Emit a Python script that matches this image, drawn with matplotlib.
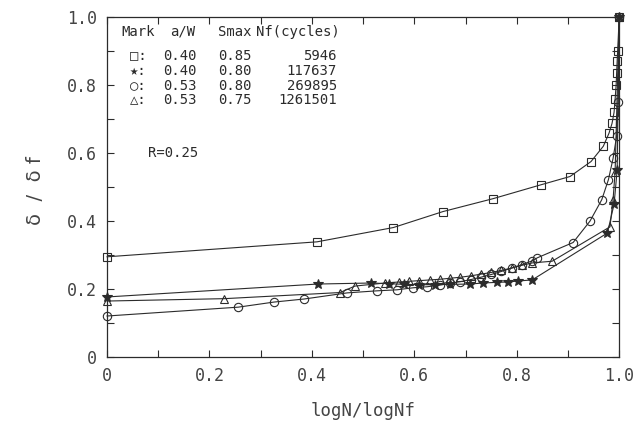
"""Normalised COD growth vs normalised log life, four test conditions."""

import matplotlib
matplotlib.use("Agg")
import matplotlib.pyplot as plt
import numpy as np

# ---- data --------------------------------------------------------------------
sq_x = [0.0, 0.41, 0.559, 0.656, 0.754, 0.848, 0.904, 0.945, 0.969, 0.98, 0.986,
        0.99, 0.992, 0.994, 0.995, 0.996, 0.997, 1.0]
sq_y = [0.295, 0.339, 0.381, 0.428, 0.466, 0.507, 0.531, 0.575, 0.62, 0.658, 0.687,
        0.72, 0.758, 0.80, 0.835, 0.87, 0.90, 1.0]

star_x = [0.0, 0.412, 0.516, 0.55, 0.58, 0.61, 0.64, 0.67, 0.709, 0.734, 0.762,
          0.783, 0.803, 0.83, 0.977, 0.99, 0.996, 1.0]
star_y = [0.177, 0.215, 0.218, 0.216, 0.214, 0.213, 0.213, 0.214, 0.215, 0.218,
          0.220, 0.221, 0.224, 0.227, 0.365, 0.45, 0.55, 1.0]

circ_x = [0.0, 0.256, 0.326, 0.385, 0.469, 0.527, 0.566, 0.598, 0.625, 0.65, 0.67,
          0.69, 0.71, 0.73, 0.75, 0.77, 0.79, 0.81, 0.83, 0.84, 0.91, 0.943, 0.966,
          0.979, 0.988, 0.995, 0.998, 1.0]
circ_y = [0.121, 0.147, 0.162, 0.171, 0.189, 0.195, 0.198, 0.204, 0.207, 0.212, 0.217,
          0.222, 0.228, 0.235, 0.243, 0.252, 0.262, 0.272, 0.283, 0.292, 0.337, 0.40, 0.463,
          0.522, 0.584, 0.65, 0.75, 1.0]

tri_x = [0.0, 0.229, 0.455, 0.484, 0.543, 0.57, 0.59, 0.61, 0.63, 0.65, 0.67, 0.69,
         0.71, 0.73, 0.75, 0.77, 0.79, 0.81, 0.83, 0.869, 0.982, 0.988, 0.992, 1.0]
tri_y = [0.165, 0.172, 0.19, 0.209, 0.218, 0.221, 0.223, 0.225, 0.227, 0.229, 0.232,
         0.235, 0.239, 0.244, 0.249, 0.255, 0.262, 0.27, 0.277, 0.282, 0.383, 0.463,
         0.545, 1.0]

legend_rows = [
    ("\u25a1", "0.40", "0.85", "5946"),
    ("\u2605", "0.40", "0.80", "117637"),
    ("\u25cb", "0.53", "0.80", "269895"),
    ("\u25b3", "0.53", "0.75", "1261501"),
]
x_ticks = [0, 0.2, 0.4, 0.6, 0.8, 1.0]
x_ticklabels = ["0", "0.2", "0.4", "0.6", "0.8", "1.0"]
y_ticks = [0, 0.2, 0.4, 0.6, 0.8, 1.0]
y_ticklabels = ["0", "0.2", "0.4", "0.6", "0.8", "1.0"]

INK = "#2b2b2b"
TXT = "#444444"
MONO = ["DejaVu Sans Mono", "DejaVu Sans"]

fig = plt.figure(figsize=(6.41, 4.34), dpi=100)
ax = fig.add_axes([0.167, 0.177, 0.799, 0.784])

common = dict(color=INK, linewidth=0.8, markersize=6, markeredgewidth=0.8, clip_on=False)
ax.plot(sq_x, sq_y, marker="s", markerfacecolor="none", zorder=3, **common)
ax.plot(circ_x, circ_y, marker="o", markerfacecolor="none", zorder=3, **common)
ax.plot(tri_x, tri_y, marker="^", markerfacecolor="none", zorder=3, **common)
ax.plot(star_x, star_y, marker="*", markerfacecolor=INK, zorder=4,
        **{**common, "markersize": 7})

ax.set_xlim(0, 1.0)
ax.set_ylim(0, 1.0)
ax.set_xticks(x_ticks)
ax.set_xticklabels(x_ticklabels)
ax.set_yticks(y_ticks)
ax.set_yticklabels(y_ticklabels)
ax.set_xticks(np.arange(0.1, 1.0, 0.2), minor=True)
ax.set_yticks(np.arange(0.1, 1.0, 0.2), minor=True)
ax.tick_params(which="both", direction="in", length=5, width=0.8, color=INK,
               top=True, right=True)
ax.tick_params(which="major", labelsize=12, labelcolor=TXT, pad=7)
for lab in ax.get_xticklabels() + ax.get_yticklabels():
    lab.set_family(MONO)
for sp in ax.spines.values():
    sp.set_linewidth(0.9)
    sp.set_color(INK)

ax.set_xlabel("logN/logNf", fontsize=12.5, color=TXT, labelpad=12, family=MONO)
fig.text(0.055, 0.56, "\u03b4  /  \u03b4 f", rotation=90, fontsize=14, color=TXT,
         ha="center", va="center")

# legend block drawn as plain text, like the original plotter output
LFS = 10
ax.text(0.027, 0.956, "Mark", fontsize=LFS, color=INK, family=MONO, va="center")
ax.text(0.123, 0.956, "a/W", fontsize=LFS, color=INK, family=MONO, va="center")
ax.text(0.217, 0.956, "Smax", fontsize=LFS, color=INK, family=MONO, va="center")
ax.text(0.291, 0.956, "Nf(cycles)", fontsize=LFS, color=INK, family=MONO, va="center")
row_y = [0.885, 0.841, 0.797, 0.755]
for (mk, aw, smax, nf), yy in zip(legend_rows, row_y):
    ax.text(0.045, yy, mk + ":", fontsize=LFS, color=INK, family=MONO, va="center")
    ax.text(0.109, yy, aw, fontsize=LFS, color=INK, family=MONO, va="center")
    ax.text(0.217, yy, smax, fontsize=LFS, color=INK, family=MONO, va="center")
    ax.text(0.449, yy, nf, fontsize=LFS, color=INK, family=MONO, va="center", ha="right")

ax.text(0.08, 0.60, "R=0.25", fontsize=LFS, color=INK, family=MONO, va="center")

fig.savefig("out.png", dpi=100)
